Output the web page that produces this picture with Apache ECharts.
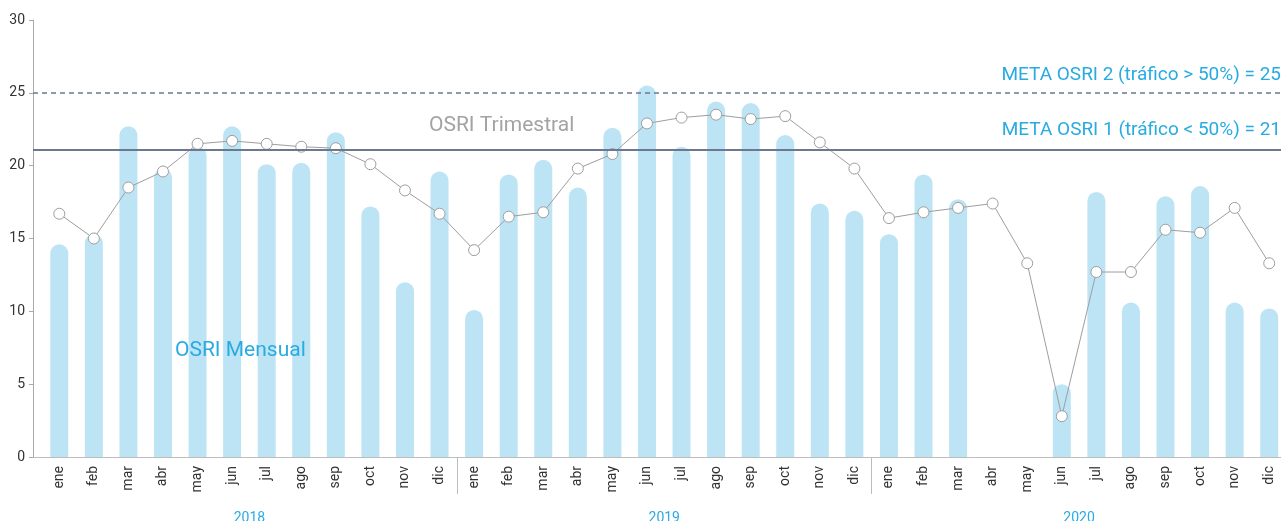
<!DOCTYPE html>
<html>
<head>
<meta charset="utf-8">
<script src="https://cdn.jsdelivr.net/npm/echarts@6/dist/echarts.min.js"></script>
<style>
  html, body { margin: 0; padding: 0; background: #fff; }
  #chart { width: 1281px; height: 521px; }
</style>
</head>
<body>
<div id="chart"></div>
<script>
const months = [
  'ene', 'feb', 'mar', 'abr', 'may', 'jun', 'jul', 'ago', 'sep', 'oct', 'nov', 'dic',
  'ene', 'feb', 'mar', 'abr', 'may', 'jun', 'jul', 'ago', 'sep', 'oct', 'nov', 'dic',
  'ene', 'feb', 'mar', 'abr', 'may', 'jun', 'jul', 'ago', 'sep', 'oct', 'nov', 'dic'
]
const years = ['2018', '2019', '2020']

// OSRI Mensual (barras)
const osriMensual = [
  14.6, 15.3, 22.7, 19.8, 21.3, 22.7, 20.1, 20.2, 22.3, 17.2, 12.0, 19.6,
  10.1, 19.4, 20.4, 18.5, 22.6, 25.5, 21.3, 24.4, 24.3, 22.1, 17.4, 16.9,
  15.3, 19.4, 17.7, null, null, 5.0, 18.2, 10.6, 17.9, 18.6, 10.6, 10.2
]

// OSRI Trimestral (linea)
const osriTrimestral = [
  16.7, 15.0, 18.5, 19.6, 21.5, 21.7, 21.5, 21.3, 21.2, 20.1, 18.3, 16.7,
  14.2, 16.5, 16.8, 19.8, 20.8, 22.9, 23.3, 23.5, 23.2, 23.4, 21.6, 19.8,
  16.4, 16.8, 17.1, 17.4, 13.3, 2.8, 12.7, 12.7, 15.6, 15.4, 17.1, 13.3
]

const metaValues = [25, 21.1]
const metaLabels = ['META OSRI 2 (tráfico > 50%) = 25', 'META OSRI 1 (tráfico < 50%) = 21']

const FONT = 'Roboto'
const BLUE = '#29abe2'
const chart = echarts.init(document.getElementById('chart'))

chart.setOption({
  animation: false,
  backgroundColor: '#fff',
  textStyle: { fontFamily: FONT },
  title: [
    {
      text: 'OSRI Trimestral',
      left: 424,
      top: 110,
      textStyle: { color: '#a3a3a3', fontSize: 21, fontWeight: 'normal', fontFamily: FONT }
    },
    {
      text: 'OSRI Mensual',
      left: 170,
      top: 335,
      textStyle: { color: BLUE, fontSize: 21, fontWeight: 'normal', fontFamily: FONT }
    }
  ],
  grid: [
    { left: 33, right: 0, top: 20, bottom: 64, outerBoundsMode: 'none', containLabel: false },
    { left: 42, width: 1244.5, top: 20, bottom: 64, outerBoundsMode: 'none', containLabel: false }
  ],
  xAxis: [
    {
      gridIndex: 0,
      type: 'value',
      min: 0,
      max: 1,
      axisLine: { show: true, lineStyle: { color: '#bdbdbd', width: 1 } },
      axisTick: { show: false },
      axisLabel: { show: false },
      splitLine: { show: false }
    },
    {
      gridIndex: 1,
      type: 'category',
      data: months,
      axisLine: { show: false },
      axisTick: {
        show: true,
        length: 37,
        interval: (i) => i > 0 && i % 12 === 0,
        lineStyle: { color: '#bdbdbd' }
      },
      axisLabel: {
        interval: 0,
        rotate: 90,
        margin: 9,
        color: '#333',
        fontSize: 14,
        fontFamily: FONT
      },
      splitLine: { show: false }
    },
    {
      gridIndex: 1,
      type: 'category',
      data: years,
      position: 'bottom',
      offset: 46,
      axisLine: { show: false },
      axisTick: { show: false },
      axisLabel: { color: BLUE, fontSize: 14, margin: 8, fontFamily: FONT },
      splitLine: { show: false }
    }
  ],
  yAxis: [
    {
      gridIndex: 0,
      type: 'value',
      min: 0,
      max: 30,
      interval: 5,
      axisLine: { show: true, lineStyle: { color: '#aaaaaa' } },
      axisTick: { show: true, length: 4, lineStyle: { color: '#aaaaaa' } },
      axisLabel: { color: '#333', fontSize: 14, margin: 8, fontFamily: FONT },
      splitLine: { show: false }
    },
    {
      gridIndex: 1,
      type: 'value',
      min: 0,
      max: 30,
      show: false
    }
  ],
  series: [
    {
      name: 'Metas',
      type: 'line',
      xAxisIndex: 0,
      yAxisIndex: 0,
      data: [],
      markLine: {
        silent: true,
        symbol: 'none',
        data: [
          {
            yAxis: metaValues[0],
            lineStyle: { type: [5, 4], color: '#6b7890', width: 1.5 },
            label: {
              formatter: metaLabels[0],
              position: 'insideEndTop',
              distance: [0, 8],
              color: BLUE,
              fontSize: 19,
              fontFamily: FONT
            }
          },
          {
            yAxis: metaValues[1],
            lineStyle: { type: 'solid', color: '#6b7890', width: 2 },
            label: {
              formatter: metaLabels[1],
              position: 'insideEndTop',
              distance: [0, 10],
              color: BLUE,
              fontSize: 19,
              fontFamily: FONT
            }
          }
        ]
      }
    },
    {
      name: 'OSRI Mensual',
      type: 'bar',
      xAxisIndex: 1,
      yAxisIndex: 1,
      barWidth: 18,
      itemStyle: { color: '#bde4f4', borderRadius: [9, 9, 0, 0] },
      data: osriMensual
    },
    {
      name: 'OSRI Trimestral',
      type: 'line',
      xAxisIndex: 1,
      yAxisIndex: 1,
      symbol: 'circle',
      symbolSize: 11,
      lineStyle: { color: '#9e9e9e', width: 1 },
      itemStyle: { color: '#fff', borderColor: '#9e9e9e', borderWidth: 1 },
      data: osriTrimestral
    }
  ]
})
</script>
</body>
</html>
